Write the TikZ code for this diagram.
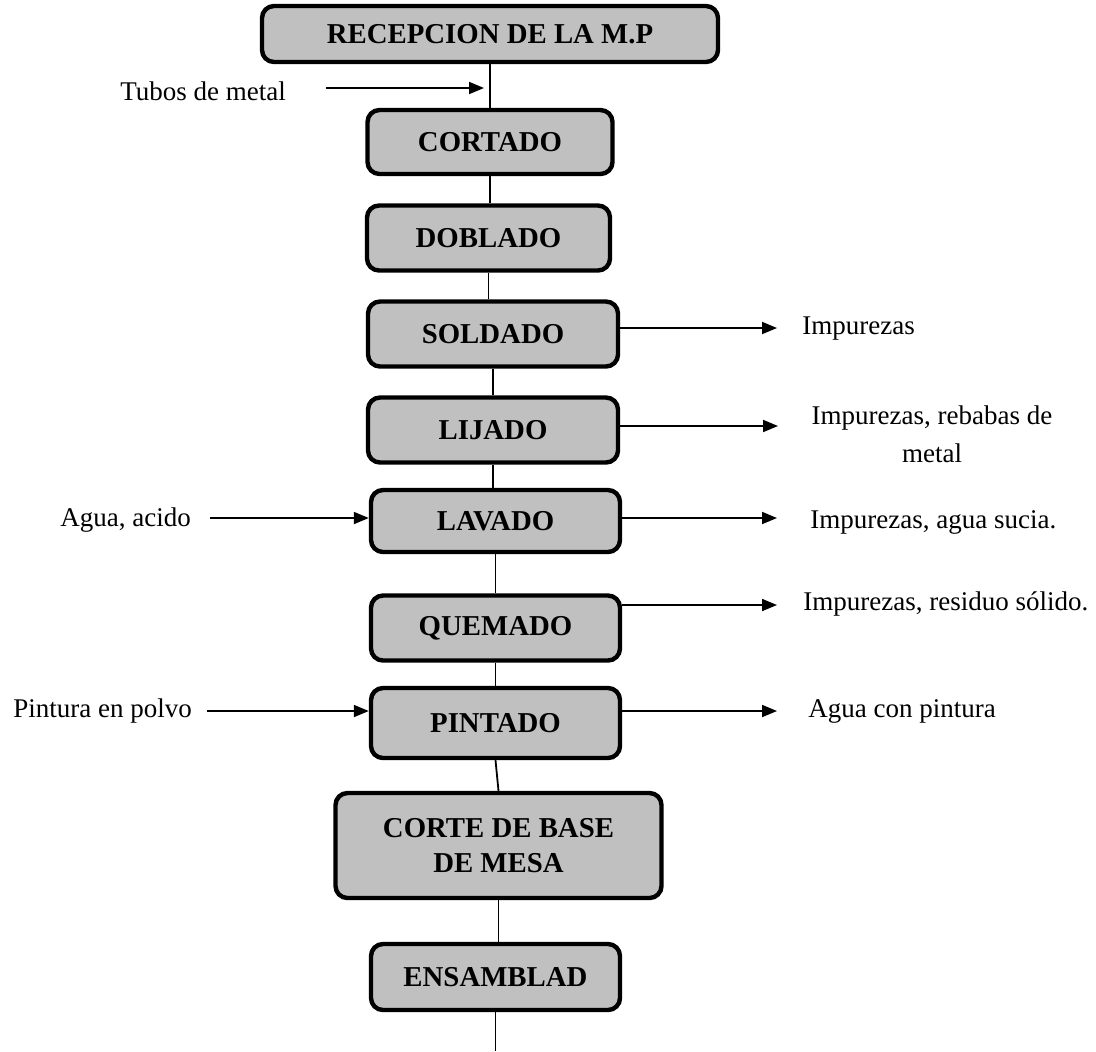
\documentclass[tikz,border=0pt]{standalone}
\usepackage{fontspec}
\setmainfont{Liberation Serif}
\usetikzlibrary{arrows.meta}
\definecolor{boxgray}{HTML}{C0C0C0}
\begin{document}
\begin{tikzpicture}[x=0.5pt,y=-0.5pt,
  stage/.style={draw=black,fill=boxgray,line width=2.2pt,rounded corners=6pt,
    font=\fontsize{14.4}{17.5}\selectfont\bfseries,align=center,inner sep=0pt},
  lbl/.style={font=\fontsize{13.5}{14}\selectfont,inner sep=0pt,align=center},
  link/.style={line width=0.9pt},
  arr/.style={line width=0.9pt,-{Triangle[length=7.5pt,width=6pt]}}]
\useasboundingbox (0,0) rectangle (1096,1051);

% process stages
\node[stage,minimum width=228pt,minimum height=28pt] (rec) at (490,34) {RECEPCION DE LA M.P};
\node[stage,minimum width=122.5pt,minimum height=32pt] (cor) at (490,142) {CORTADO};
\node[stage,minimum width=121.5pt,minimum height=32.5pt] (dob) at (488.5,238) {DOBLADO};
\node[stage,minimum width=125pt,minimum height=32.5pt] (sol) at (493,334) {SOLDADO};
\node[stage,minimum width=125pt,minimum height=32.5pt] (lij) at (493,430) {LIJADO};
\node[stage,minimum width=124.5pt,minimum height=31pt] (lav) at (495.5,521) {LAVADO};
\node[stage,minimum width=124.5pt,minimum height=32.5pt] (que) at (495.5,628) {QUEMADO};
\node[stage,minimum width=124.5pt,minimum height=35pt] (pin) at (495.5,723) {PINTADO};
\node[stage,minimum width=163pt,minimum height=52.5pt] (cbm) at (498.5,845.5) {CORTE DE BASE\\DE MESA};
\node[stage,minimum width=124.5pt,minimum height=33pt] (ens) at (495.5,977) {ENSAMBLAD};

% main flow
\draw[link] (rec.south) -- (rec.south |- cor.north);
\draw[link] (cor.south) -- (cor.south |- dob.north);
\draw[link] (dob.south) -- (dob.south |- sol.north);
\draw[link] (sol.south) -- (sol.south |- lij.north);
\draw[link] (lij.south) -- (lij.south |- lav.north);
\draw[link] (lav.south) -- (lav.south |- que.north);
\draw[link] (que.south) -- (que.south |- pin.north);
\draw[link] (pin.south) -- (cbm.north);
\draw[link] (cbm.south) -- (cbm.south |- ens.north);
\coordinate (out) at (500,1051);
\draw[link] (ens.south) -- (ens.south |- out);

% inputs
\node[lbl,anchor=west] (tub) at (120,91) {Tubos de metal};
\coordinate (tubin) at (484,88);
\draw[arr] (326,88) coordinate (tubst) -- (tubin);

\node[lbl,anchor=west] (agu) at (60,520) {Agua, acido};
\draw[arr] (210,518) coordinate (agust) -- (agust -| lav.west);

\node[lbl,anchor=west] (pol) at (13,711) {Pintura en polvo};
\draw[arr] (207,711) coordinate (polst) -- (polst -| pin.west);

% outputs
\coordinate (solout) at (777,328);
\draw[arr] (solout -| sol.east) -- (solout);
\node[lbl,anchor=west] (solt) at (802,329) {Impurezas};

\coordinate (lijout) at (778,426);
\draw[arr] (lijout -| lij.east) -- (lijout);
\node[lbl] (lijt) at (932,434) {Impurezas, rebabas de\\[5pt]metal};

\coordinate (lavout) at (777,518);
\draw[arr] (lavout -| lav.east) -- (lavout);
\node[lbl,anchor=west] (lavt) at (810,522) {Impurezas, agua sucia.};

\coordinate (queout) at (777,605);
\draw[arr] (queout -| que.east) -- (queout);
\node[lbl,anchor=west] (quet) at (803,604) {Impurezas, residuo sólido.};

\coordinate (pinout) at (777,711);
\draw[arr] (pinout -| pin.east) -- (pinout);
\node[lbl,anchor=west] (pint) at (808,711) {Agua con pintura};
\end{tikzpicture}
\end{document}
